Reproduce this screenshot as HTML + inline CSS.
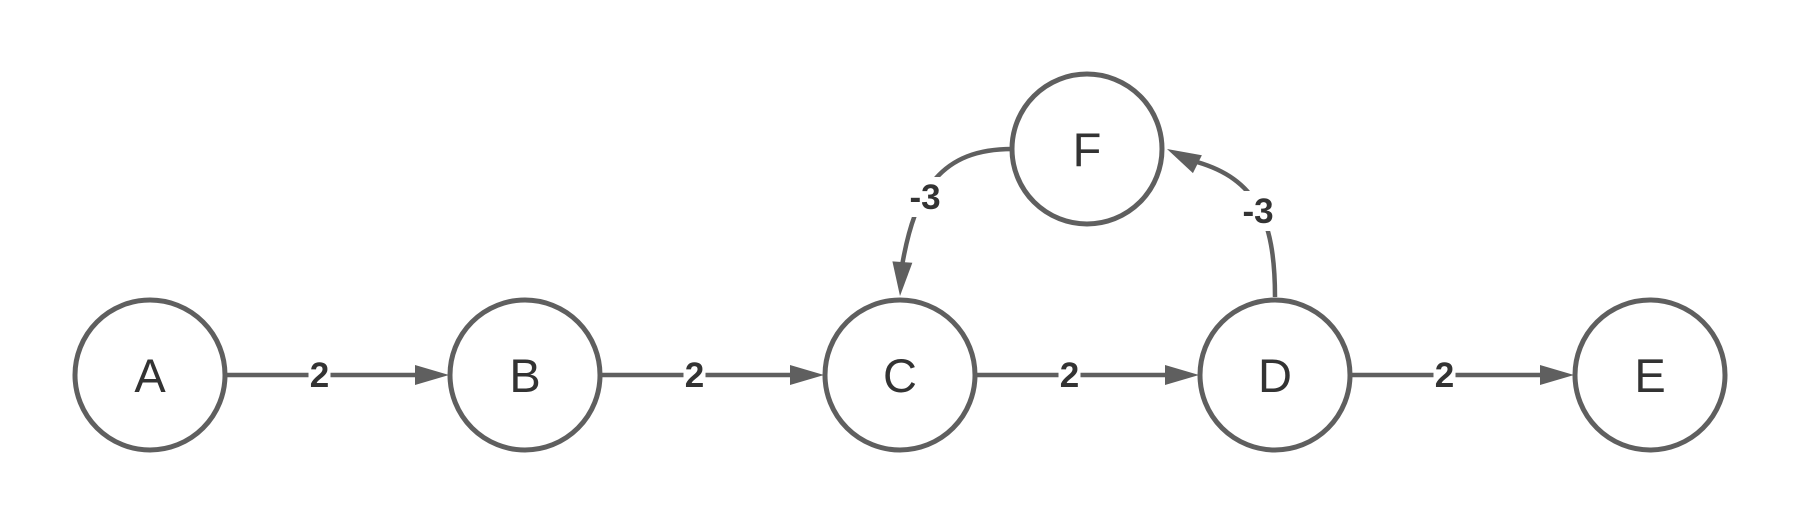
<!DOCTYPE html>
<html><head><meta charset="utf-8"><style>
html,body{margin:0;padding:0;background:#fff;}
svg{display:block;}
text{font-family:"Liberation Sans",sans-serif;}
</style></head><body>
<svg id="g" width="1800" height="525" viewBox="0 0 1800 525"></svg>
<script>
const nodeIds = ["A","B","C","D","E","F"];
const nodeX = [150,525,900,1275,1650,1087];
const nodeY = [375,375,375,375,375,149];
const edgeFrom = ["A","B","C","D","F","D"];
const edgeTo = ["B","C","D","E","C","F"];
const edgeWeights = ["2","2","2","2","-3","-3"];
const R = 75, COL = "#5f5f5f";
const svg = document.getElementById('g');
const NS = "http://www.w3.org/2000/svg";
function mk(tag, attrs, parent){const e=document.createElementNS(NS,tag);for(const k in attrs)e.setAttribute(k,attrs[k]);(parent||svg).appendChild(e);return e;}
function pos(id){const i=nodeIds.indexOf(id);return [nodeX[i],nodeY[i]];}
function arrow(tx,ty,dx,dy,name){
  const L=Math.hypot(dx,dy);const ux=dx/L,uy=dy/L;const len=34,hw=10;
  const bx=tx-ux*len,by=ty-uy*len;
  const p=mk('polygon',{points:`${tx},${ty} ${bx-uy*hw},${by+ux*hw} ${bx+uy*hw},${by-ux*hw}`,fill:COL});
  
  
}
function label(x,y,t,name){
  const w=t.length*20+2;
  const r=mk('rect',{x:x-w/2,y:y-20,width:w,height:40,fill:'#fff'});
  
  
  const tx=mk('text',{x:x,y:y+12,'text-anchor':'middle',fill:'#333'});
  tx.setAttribute('style','font-size:35px;font-weight:bold;font-family:"Liberation Sans",sans-serif;');
  tx.textContent=t;
  
  
}
edgeFrom.forEach((f,i)=>{
  const t=edgeTo[i];const [x1,y1]=pos(f);const [x2,y2]=pos(t);
  const name='edge-'+f.toLowerCase()+'-'+t.toLowerCase();
  let d,tip,dir,lx,ly;
  if(y1===y2){
    const sx=x1+R,ex=x2-R-1;
    d=`M${sx},${y1} L${ex-30},${y2}`;tip=[ex,y2];dir=[1,0];lx=(x1+R+x2-R)/2-18;ly=y1;
  } else if(y1<y2){
    const sx=x1-R,sy=y1,ex=x2,ey=y2-R-4;
    d=`M${sx},${sy} C${sx-70},${sy} ${ex+15},${sy+40} ${ex+2},${ey-30}`;
    tip=[ex,ey];dir=[-0.07,1];lx=925;ly=197;
  } else {
    const sx=x1,sy=y1-R-3,ex=x2+R+5,ey=y2;
    d=`M${sx},${sy} C${sx},${sy-80} ${sx-20},${ey+30} ${ex+30},${ey+13}`;
    tip=[ex,ey];dir=[-1,-0.5];lx=1258;ly=211;
  }
  const p=mk('path',{d:d,fill:'none',stroke:COL,'stroke-width':4.5});
  
  
  arrow(tip[0],tip[1],dir[0],dir[1],name);
  label(lx,ly,edgeWeights[i],name);
});
nodeIds.forEach((id,i)=>{
  const g=mk('g',{});
  
  
  const c=mk('circle',{cx:nodeX[i],cy:nodeY[i],r:R,fill:'#fff',stroke:COL,'stroke-width':5},g);
  
  
  const t=mk('text',{x:nodeX[i],y:nodeY[i]+17,'text-anchor':'middle',fill:'#333'},g);
  t.setAttribute('style','font-size:47px;font-family:"Liberation Sans",sans-serif;');
  t.textContent=id;
  
  
});
</script>
</body></html>
